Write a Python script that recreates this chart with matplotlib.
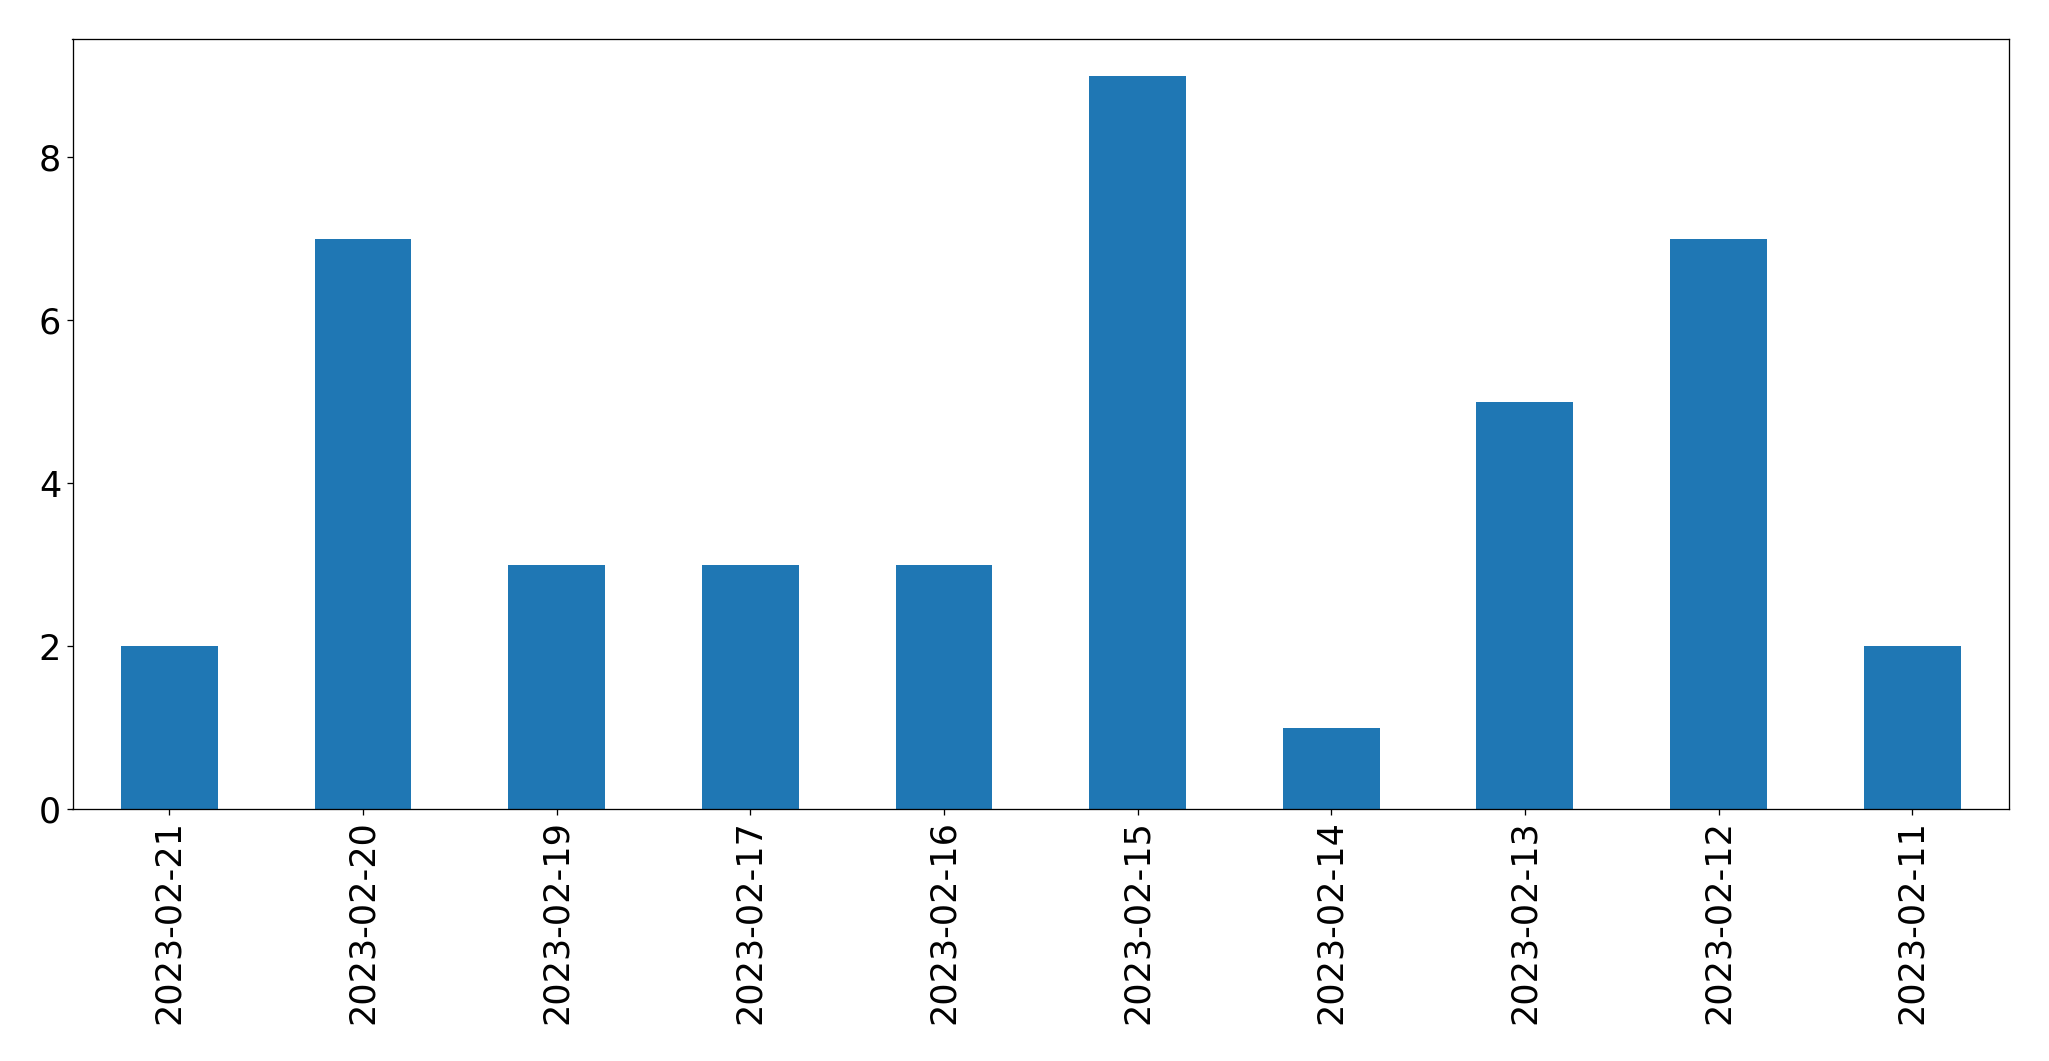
import matplotlib
matplotlib.use("Agg")
import matplotlib.pyplot as plt

dates = ["2023-02-21", "2023-02-20", "2023-02-19", "2023-02-17", "2023-02-16",
         "2023-02-15", "2023-02-14", "2023-02-13", "2023-02-12", "2023-02-11"]
counts = [2, 7, 3, 3, 3, 9, 1, 5, 7, 2]

DPI = 117
fig = plt.figure(figsize=(2049 / DPI, 1061 / DPI), dpi=DPI)
ax = fig.add_axes([72.5 / 2049, 1 - 809 / 1061, (2009 - 72.5) / 2049, (809 - 39) / 1061])
x = list(range(len(dates)))
ax.bar(x, counts, width=0.5, color="#1f77b4")
ax.set_xlim(-0.5, len(dates) - 0.5)
ax.set_ylim(0, max(counts) * 1.05)
ax.set_xticks(x)
ax.set_xticklabels(dates, rotation=90)
ax.set_yticks([0, 2, 4, 6, 8])
ax.tick_params(labelsize=21.5)
fig.savefig("out.png", dpi=DPI)
